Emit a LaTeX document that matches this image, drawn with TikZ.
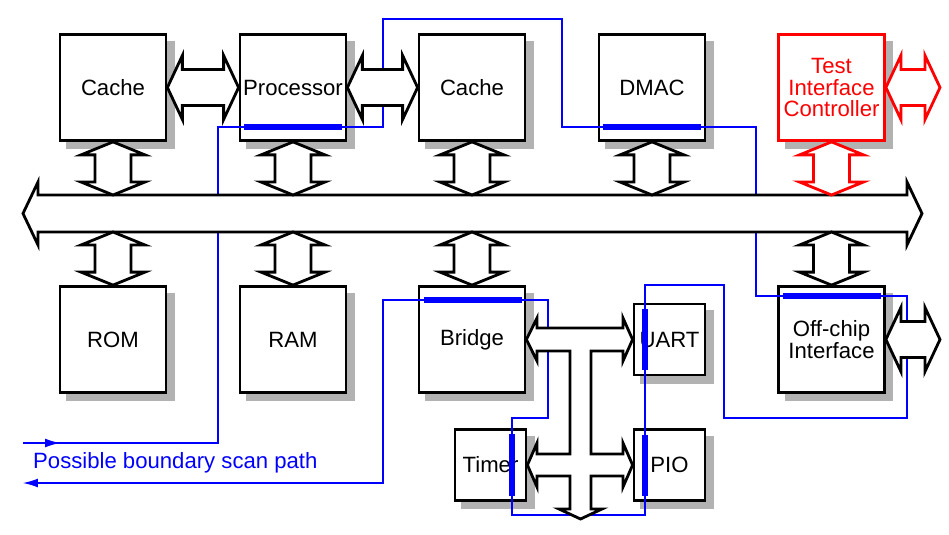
\documentclass[tikz,border=0pt]{standalone}
\usepackage{fontspec}
\setmainfont{Liberation Sans}
\usetikzlibrary{calc,backgrounds,arrows.meta}

\newcommand{\vlink}[3][black]{%
  \draw[link,draw=#1] (#2) -- ++(32,13) -- ++(-14,0) -- ($(#3)+(18,-13)$) -- ++(14,0) -- (#3)
    -- ++(-32,-13) -- ++(14,0) -- ($(#2)+(-18,13)$) -- ++(-14,0) -- cycle;}
\newcommand{\hlink}[3][black]{%
  \draw[link,draw=#1] (#2) -- ++(15,-32) -- ++(0,14) -- ($(#3)+(-15,-18)$) -- ++(0,-14) -- (#3)
    -- ++(-15,32) -- ++(0,-14) -- ($(#2)+(15,18)$) -- ++(0,14) -- cycle;}

\begin{document}
\begin{tikzpicture}[x=0.02cm,y=-0.02cm,
  font=\fontsize{12.6}{12.5}\selectfont,
  block/.style={draw,line width=1.6pt,fill=white,minimum width=2.12cm,minimum height=2.12cm,
    inner sep=0pt,align=center},
  smallblock/.style={block,minimum width=1.42cm,minimum height=1.42cm},
  link/.style={line width=1.6pt,fill=white},
  scan/.style={blue,line width=0.6pt},
  scanbar/.style={blue,line width=3.1pt}]
\useasboundingbox (0,0) rectangle (949,534);

\node[block] (cacheA) at (113,87.5) {Cache};
\node[block] (proc) at (293,87.5) {Processor};
\node[block] (cacheB) at (472,87.5) {Cache};
\node[block] (dmac) at (652,87.5) {DMAC};
\node[block,draw=red,text=red] (tic) at (831.5,87.5) {Test\\Interface\\Controller};
\node[block] (rom) at (113,339.5) {ROM};
\node[block] (ram) at (293,339.5) {RAM};
\node[block] (bridge) at (472,339.5) {Bridge};
\node[block] (offchip) at (831.5,339.5) {Off-chip\\Interface};
\node[smallblock] (uart) at (669.5,339.5) {UART};
\node[smallblock] (timer) at (490.5,465) {Timer};
\node[smallblock] (pio) at (669.5,465) {PIO};

\begin{scope}[on background layer]
\foreach \n in {cacheA,proc,cacheB,dmac,tic,rom,ram,bridge,offchip,uart,timer,pio}
  \fill[black!30] ($(\n.south west)+(7.5,7.5)$) rectangle ($(\n.north east)+(7.5,7.5)$);
\end{scope}

\coordinate (buswest) at (23,213.5);
\coordinate (buseast) at (922,213.5);
\coordinate (bustop) at (0,195);
\coordinate (busbot) at (0,232);
\coordinate (ticport) at (940,87.5);
\coordinate (offport) at (940,339.5);
\coordinate (apbout) at (580.5,519);
\coordinate (scanin) at (23,443);
\coordinate (scanout) at (23,483);

\draw[scan,-{Latex[length=8.5pt,width=5pt]}] (scanin) -- (218,443) -- (218,127) -- (383,127)
  -- (383,19) -- (562,19) -- (562,127) -- (756,127) -- (756,296) -- (907,296) -- (907,418)
  -- (724,418) -- (724,285) -- (645,285) -- (645,515) -- (512,515) -- (512,418) -- (548,418)
  -- (548,300) -- (383,300) -- (383,483) -- (scanout);
\draw[scan,-{Latex[length=8.5pt,width=5pt]}] (scanin) -- (60,443);
\node[blue,anchor=west] (scanlabel) at (27,463) {Possible boundary scan path};

\draw[scanbar] (244,127) -- (342,127);
\draw[scanbar] (603,127) -- (701,127);
\draw[scanbar] (783,296) -- (881,296);
\draw[scanbar] (424,300) -- (522,300);
\draw[scanbar] (645,309) -- (645,370);
\draw[scanbar] (645,435) -- (645,496);
\draw[scanbar] (512,434) -- (512,496);

\draw[link] (buswest) -- ++(15,-31.5) -- ++(0,13) -- ($(buseast)+(-15,-18.5)$) -- ++(0,-13)
  -- (buseast) -- ++(-15,31.5) -- ++(0,-13) -- ($(buswest)+(15,18.5)$) -- ++(0,13) -- cycle;

\hlink{cacheA.east}{proc.west}
\hlink{proc.east}{cacheB.west}
\hlink[red]{tic.east}{ticport}
\hlink{offchip.east}{offport}

\vlink{cacheA.south}{cacheA.south |- bustop}
\vlink{proc.south}{proc.south |- bustop}
\vlink{cacheB.south}{cacheB.south |- bustop}
\vlink{dmac.south}{dmac.south |- bustop}
\vlink[red]{tic.south}{tic.south |- bustop}
\vlink{rom.north |- busbot}{rom.north}
\vlink{ram.north |- busbot}{ram.north}
\vlink{bridge.north |- busbot}{bridge.north}
\vlink{offchip.north |- busbot}{offchip.north}

\draw[link] (bridge.east) -- (537,318) -- (537,328) -- (623,328) -- (623,318) -- (uart.west)
  -- (623,361) -- (623,351) -- (591,351) -- (591,454) -- (623,454) -- (623,443) -- (pio.west)
  -- (623,487) -- (623,476) -- (591,476) -- (591,509) -- (602,509) -- (apbout) -- (559,509)
  -- (570,509) -- (570,476) -- (537,476) -- (537,487) -- (timer.east) -- (537,443)
  -- (537,454) -- (570,454) -- (570,351) -- (537,351) -- (537,361) -- cycle;
\end{tikzpicture}
\end{document}
